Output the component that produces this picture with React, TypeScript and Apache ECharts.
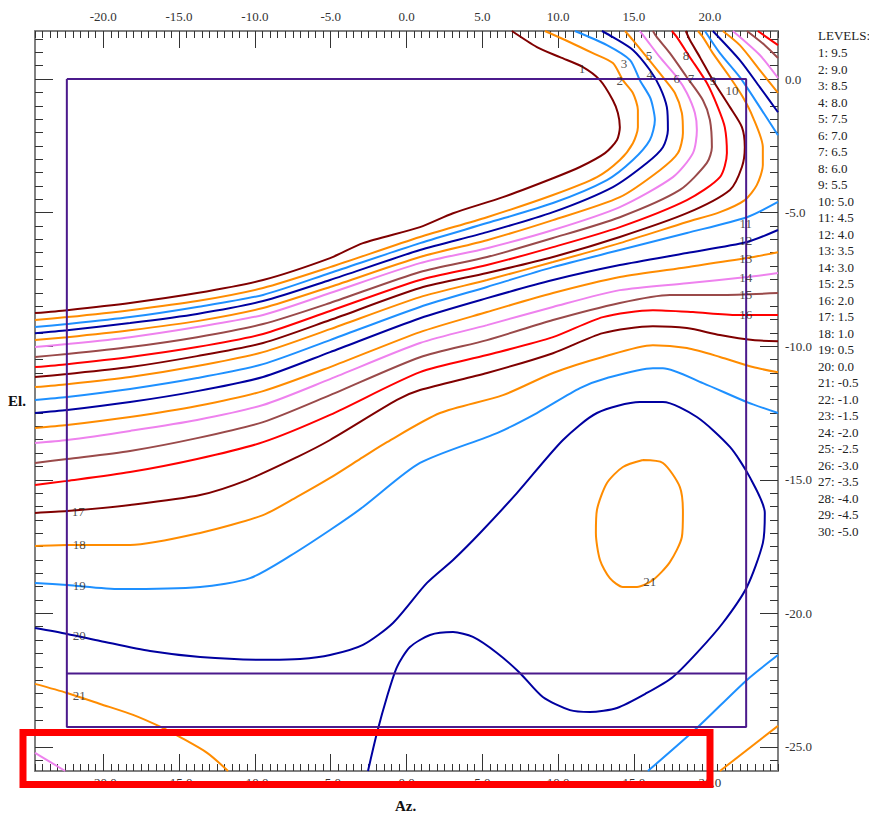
import React, { useEffect, useRef } from "react";
import * as echarts from "echarts";

// ---------- data ----------
const levelValues = [9.5, 9.0, 8.5, 8.0, 7.5, 7.0, 6.5, 6.0, 5.5, 5.0, 4.5, 4.0, 3.5, 3.0, 2.5, 2.0, 1.5, 1.0, 0.5, 0.0, -0.5, -1.0, -1.5, -2.0, -2.5, -3.0, -3.5, -4.0, -4.5, -5.0];

const azRange = [-24.5, 24.5];
const elRange = [-25.9, 1.8];
const azMajorTicks = [-20, -15, -10, -5, 0, 5, 10, 15, 20];
const elMajorTicks = [-25, -20, -15, -10, -5, 0];

const frameAz = [-22.4, 22.4];
const frameEl = [0, -24.25];
const frameCutEl = -22.25;

const level1 = [[-24.5,-8.76],[-22.38,-8.65],[-18.23,-8.38],[-13.81,-8.01],[-9.46,-7.52],[-5.04,-6.70],[-2.87,-6.14],[0.89,-5.54],[3.07,-5.02],[6.36,-4.42],[9.66,-3.71],[11.44,-3.29],[13.09,-2.77],[13.88,-2.28],[14.07,-1.80],[13.94,-1.27],[13.61,-0.79],[12.76,-0.04],[11.64,0.45],[10.12,0.82],[8.60,1.20],[6.95,1.8]];
const level2 = [[-24.5,-9.02],[-22.38,-8.91],[-18.23,-8.65],[-13.81,-8.31],[-9.46,-7.82],[-5.04,-7.04],[0.89,-5.91],[5.31,-5.17],[9.66,-4.34],[12.56,-3.67],[14.07,-3.03],[14.93,-2.40],[15.26,-1.80],[15.26,-1.16],[14.93,-0.52],[14.27,-0.04],[13.61,0.60],[12.29,0.97],[10.78,1.38],[9.13,1.8]];
const level3 = [[-24.5,-9.28],[-22.38,-9.17],[-18.23,-8.91],[-13.81,-8.53],[-9.46,-8.08],[-5.04,-7.26],[0.89,-6.14],[5.31,-5.39],[9.66,-4.64],[13.22,-3.78],[14.93,-3.03],[16.05,-2.28],[16.38,-1.53],[16.25,-1.05],[16.05,-0.67],[15.39,-0.04],[14.74,0.71],[13.22,1.27],[11.11,1.8]];
const level4 = [[-24.5,-9.51],[-22.38,-9.40],[-18.23,-9.13],[-13.81,-8.79],[-9.46,-8.31],[-5.04,-7.52],[0.89,-6.40],[5.31,-5.73],[9.66,-4.98],[13.61,-4.04],[15.85,-3.14],[16.91,-2.55],[17.24,-1.91],[17.17,-1.05],[16.71,-0.30],[16.05,0.34],[14.93,1.09],[13.61,1.57],[12.89,1.8]];
const level5 = [[-24.5,-9.77],[-22.38,-9.66],[-18.23,-9.40],[-13.81,-9.06],[-9.46,-8.57],[-5.04,-7.78],[0.89,-6.66],[5.31,-6.03],[9.66,-5.28],[14.07,-4.42],[16.71,-3.41],[17.90,-2.77],[18.23,-2.02],[18.16,-1.27],[17.70,-0.52],[16.91,0.07],[15.85,0.82],[14.93,1.46],[14.41,1.8]];
const level6 = [[-24.5,-10.03],[-22.38,-9.92],[-18.23,-9.66],[-13.81,-9.28],[-9.46,-8.83],[-5.04,-8.01],[0.89,-6.89],[5.31,-6.33],[9.66,-5.65],[14.07,-4.79],[17.57,-3.67],[18.89,-2.77],[19.15,-1.91],[19.02,-1.27],[18.49,-0.52],[17.83,0.07],[16.71,0.82],[15.85,1.46],[15.39,1.8]];
const level7 = [[-24.5,-10.40],[-22.38,-10.29],[-18.23,-10.03],[-13.81,-9.66],[-9.46,-9.17],[-5.04,-8.38],[0.89,-7.22],[5.31,-6.66],[9.66,-5.95],[14.07,-5.17],[18.03,-4.15],[19.81,-3.14],[20.14,-2.55],[20.01,-1.53],[19.55,-0.79],[18.49,0.07],[17.37,0.97],[16.51,1.57],[16.25,1.8]];
const level8 = [[-24.5,-10.78],[-22.38,-10.67],[-18.23,-10.40],[-13.81,-10.03],[-9.46,-9.54],[-5.04,-8.68],[0.89,-7.52],[5.31,-6.96],[9.66,-6.29],[14.07,-5.54],[18.49,-4.53],[20.67,-3.67],[21.13,-2.77],[20.99,-1.80],[20.53,-1.05],[19.81,-0.15],[18.69,0.82],[17.83,1.57],[17.50,1.8]];
const level9 = [[-24.5,-11.15],[-22.38,-11.04],[-18.23,-10.78],[-13.81,-10.37],[-9.46,-9.88],[-5.04,-9.02],[0.89,-7.82],[5.31,-7.26],[9.66,-6.66],[14.07,-5.91],[18.49,-5.02],[21.33,-4.15],[22.12,-3.29],[22.31,-2.55],[22.12,-1.80],[21.33,-1.05],[20.20,-0.04],[19.35,0.82],[18.69,1.46],[18.42,1.8]];
const level10 = [[-24.5,-11.53],[-22.38,-11.42],[-18.23,-11.15],[-13.81,-10.74],[-9.46,-10.22],[-5.04,-9.36],[0.89,-8.16],[5.31,-7.52],[9.66,-6.85],[14.07,-6.14],[18.49,-5.35],[20.67,-4.98],[22.31,-4.53],[23.10,-3.97],[23.50,-3.22],[23.50,-2.55],[22.84,-1.42],[22.18,-0.67],[21.33,0.07],[20.20,0.97],[19.55,1.57],[19.22,1.8]];
const level11 = [[-24.5,-12.01],[-22.38,-11.90],[-18.23,-11.60],[-13.81,-11.19],[-9.46,-10.67],[-5.04,-9.77],[0.89,-8.53],[5.31,-7.78],[9.66,-7.04],[14.07,-6.40],[18.49,-5.76],[22.45,-5.17],[24.5,-4.60]];
const level11b = [[19.68,1.8],[20.67,0.97],[21.98,0.07],[23.30,-1.05],[24.5,-2.10]];
const level12 = [[-24.5,-12.50],[-22.38,-12.39],[-18.23,-12.09],[-13.81,-11.68],[-9.46,-11.15],[-5.04,-10.22],[0.89,-8.95],[5.31,-8.20],[9.66,-7.52],[14.07,-6.96],[18.49,-6.51],[22.45,-6.10],[24.5,-5.65]];
const level12b = [[20.20,1.8],[21.98,0.71],[23.30,-0.30],[24.5,-1.24]];
const level13 = [[-24.5,-13.06],[-22.38,-12.95],[-18.23,-12.65],[-13.81,-12.24],[-9.46,-11.68],[-5.04,-10.78],[0.89,-9.47],[5.31,-8.72],[9.66,-8.01],[14.07,-7.41],[18.49,-7.04],[22.45,-6.70],[24.5,-6.48]];
const level13b = [[20.86,1.8],[21.98,1.27],[23.30,0.34],[24.5,-0.52]];
const level14 = [[-24.5,-13.62],[-22.38,-13.51],[-18.23,-13.17],[-13.81,-12.76],[-9.46,-12.20],[-5.04,-11.23],[0.89,-9.88],[5.31,-9.21],[9.66,-8.53],[14.07,-7.90],[18.49,-7.64],[22.45,-7.41],[24.5,-7.26]];
const level14b = [[21.52,1.8],[23.30,0.90],[24.5,0.04]];
const level15 = [[-24.5,-14.37],[-22.38,-14.22],[-18.23,-13.92],[-13.81,-13.44],[-9.46,-12.84],[-5.04,-11.83],[0.89,-10.41],[5.31,-9.77],[9.66,-9.02],[14.07,-8.38],[17.37,-8.08],[20.67,-8.08],[24.5,-8.01]];
const level15b = [[22.45,1.8],[23.63,1.27],[24.5,0.79]];
const level16 = [[-24.5,-15.19],[-22.38,-15.04],[-18.23,-14.71],[-13.81,-14.22],[-9.46,-13.59],[-5.04,-12.57],[0.89,-10.97],[5.31,-10.33],[9.66,-9.66],[12.95,-8.91],[16.25,-8.65],[18.89,-8.72],[21.79,-8.83],[24.5,-8.83]];
const level16b = [[23.17,1.8],[24.5,1.27]];
const level17 = [[-24.5,-16.24],[-22.38,-16.17],[-18.23,-15.94],[-13.61,-15.57],[-10.52,-15.01],[-7.22,-14.15],[-5.04,-13.51],[-0.63,-12.01],[0.89,-11.64],[5.31,-11.00],[9.66,-10.26],[12.95,-9.51],[16.25,-9.25],[18.49,-9.32],[20.67,-9.58],[22.84,-9.77],[24.5,-9.81]];
const level18 = [[-24.5,-17.48],[-22.38,-17.44],[-18.23,-17.44],[-13.61,-16.99],[-9.46,-16.32],[-7.22,-15.64],[-5.04,-14.93],[-2.87,-14.15],[-1.29,-13.59],[2.21,-12.50],[6.36,-11.83],[9.66,-11.00],[12.95,-10.40],[16.25,-9.96],[18.49,-10.07],[20.67,-10.40],[22.84,-10.78],[24.5,-10.97]];
const level18b = [[20.67,-25.9],[24.5,-24.21]];
const level19 = [[-24.5,-18.86],[-22.38,-18.94],[-18.89,-19.09],[-13.61,-19.01],[-10.32,-18.68],[-7.68,-17.85],[-5.04,-16.88],[-2.87,-16.02],[0.89,-14.37],[5.97,-13.25],[8.60,-12.50],[11.44,-11.57],[13.22,-11.19],[16.25,-10.82],[16.91,-10.82],[19.55,-11.38],[22.45,-12.09],[24.5,-12.50]];
const level19b = [[15.92,-25.9],[19.15,-24.29],[22.45,-22.49],[24.5,-21.56]];
const level20 = [[-24.5,-20.55],[-22.38,-20.77],[-20.20,-21.03],[-16.91,-21.41],[-13.61,-21.63],[-9.00,-21.74],[-7.02,-21.71],[-5.04,-21.56],[-2.87,-21.18],[-0.89,-20.36],[1.35,-18.86],[3.07,-18.00],[4.85,-16.99],[7.28,-15.50],[10.32,-13.51],[12.56,-12.50],[15.39,-12.09],[16.91,-12.09],[19.15,-12.65],[21.33,-13.77],[22.64,-14.90],[23.63,-16.24],[23.50,-17.37],[22.45,-19.01],[20.86,-20.36],[19.15,-21.48],[17.57,-22.38],[15.85,-22.98],[13.88,-23.54],[12.10,-23.69],[10.78,-23.62],[8.99,-23.13],[7.48,-22.23],[5.97,-21.48],[4.38,-20.88],[3.07,-20.70],[1.55,-20.81],[0.23,-21.26],[-0.63,-22.01],[-1.29,-23.13],[-1.95,-24.48],[-2.54,-25.9]];
const level21 = [[15.59,-14.26],[16.91,-14.37],[18.03,-15.27],[18.23,-16.24],[18.16,-17.14],[17.37,-18.08],[16.25,-18.75],[15.20,-19.01],[14.27,-19.01],[13.41,-18.68],[12.76,-18.00],[12.49,-16.99],[12.56,-16.13],[13.22,-15.12],[14.27,-14.52],[15.59,-14.26]];
const level21b = [[-24.5,-22.64],[-22.38,-22.98],[-20.20,-23.39],[-18.03,-23.80],[-16.06,-24.29],[-14.93,-24.63],[-13.15,-25.22],[-11.77,-25.9]];
const level22 = [[-24.5,-25.22],[-22.51,-25.9]];

const contourPieces: { level: number; pts: number[][] }[] = [
  { level: 1, pts: level1 }, { level: 2, pts: level2 }, { level: 3, pts: level3 },
  { level: 4, pts: level4 }, { level: 5, pts: level5 }, { level: 6, pts: level6 },
  { level: 7, pts: level7 }, { level: 8, pts: level8 }, { level: 9, pts: level9 },
  { level: 10, pts: level10 }, { level: 11, pts: level11 }, { level: 11, pts: level11b },
  { level: 12, pts: level12 }, { level: 12, pts: level12b }, { level: 13, pts: level13 },
  { level: 13, pts: level13b }, { level: 14, pts: level14 }, { level: 14, pts: level14b },
  { level: 15, pts: level15 }, { level: 15, pts: level15b }, { level: 16, pts: level16 },
  { level: 16, pts: level16b }, { level: 17, pts: level17 }, { level: 18, pts: level18 },
  { level: 18, pts: level18b }, { level: 19, pts: level19 }, { level: 19, pts: level19b },
  { level: 20, pts: level20 }, { level: 21, pts: level21 }, { level: 21, pts: level21b },
  { level: 22, pts: level22 },
];

const labelTexts = ["1", "2", "3", "4", "5", "6", "7", "8", "9", "10", "11", "12", "13", "14", "15", "16", "17", "18", "19", "20", "21", "21"];
const labelAz = [11.57, 14.07, 14.34, 16.05, 15.99, 17.83, 18.76, 18.43, 20.21, 21.46, 22.38, 22.38, 22.38, 22.38, 22.38, 22.38, -21.65, -21.59, -21.59, -21.59, -21.59, 16.05];
const labelEl = [0.41, -0.04, 0.60, 0.19, 0.90, 0.04, 0.04, 0.90, -0.04, -0.41, -5.39, -6.06, -6.70, -7.41, -8.08, -8.83, -16.17, -17.44, -18.97, -20.81, -23.09, -18.82];

// ---------- styles ----------
const SERIF = "'Liberation Serif', 'Times New Roman', serif";
const levelColors = ["#800000", "#ff8c00", "#1e90ff", "#0000a0", "#ff8c00", "#ee82ee", "#9a4a4a", "#ff0000"];
const frameColor = "#4b1a8c";
const axisGray = "#808080";
const tickColor = "#333333";

function range(a: number, b: number, step: number) {
  const out: number[] = [];
  for (let v = a; v <= b + 1e-9; v += step) out.push(Math.round(v * 10) / 10);
  return out;
}

export default function App() {
  const ref = useRef<HTMLDivElement>(null);
  useEffect(() => {
    if (!ref.current) return;
    const chart = echarts.init(ref.current, null, { renderer: "svg" });
    const minorAz = range(azRange[0], azRange[1], 0.5);
    const minorEl = range(-25.5, 1.5, 0.5);
    const labelFont = { fontFamily: SERIF, fontSize: 13, color: "#333" };
    const line = (show: boolean) => ({ show, onZero: false, lineStyle: { color: axisGray, width: 2 } });
    const tick = (len: number, vals: number[]) => ({
      show: true, inside: true, length: len, customValues: vals, lineStyle: { color: tickColor, width: 1 },
    });

    const xBase = { type: "value", min: azRange[0], max: azRange[1], splitLine: { show: false }, gridIndex: 0 };
    const yBase = { type: "value", min: elRange[0], max: elRange[1], splitLine: { show: false }, gridIndex: 0 };

    const xAxis = [
      { ...xBase, position: "bottom", axisLine: line(true), axisTick: tick(7, minorAz),
        axisLabel: { show: true, customValues: azMajorTicks, formatter: (v: number) => v.toFixed(1), margin: 5, ...labelFont } },
      { ...xBase, position: "bottom", axisLine: line(false), axisTick: tick(17, azMajorTicks), axisLabel: { show: false } },
      { ...xBase, position: "top", axisLine: line(true), axisTick: tick(7, minorAz),
        axisLabel: { show: true, customValues: azMajorTicks, formatter: (v: number) => v.toFixed(1), margin: 8, ...labelFont } },
      { ...xBase, position: "top", axisLine: line(false), axisTick: tick(17, azMajorTicks), axisLabel: { show: false } },
    ];
    const yAxis = [
      { ...yBase, position: "left", axisLine: line(true), axisTick: tick(8, minorEl), axisLabel: { show: false } },
      { ...yBase, position: "left", axisLine: line(false), axisTick: tick(18, elMajorTicks), axisLabel: { show: false } },
      { ...yBase, position: "right", axisLine: line(true), axisTick: tick(8, minorEl),
        axisLabel: { show: true, customValues: elMajorTicks, formatter: (v: number) => v.toFixed(1), margin: 7, ...labelFont } },
      { ...yBase, position: "right", axisLine: line(false), axisTick: tick(18, elMajorTicks), axisLabel: { show: false } },
    ];

    const contourSeries = contourPieces.map((p) => ({
      type: "line",
      data: p.pts,
      xAxisIndex: 0,
      yAxisIndex: 0,
      showSymbol: false,
      symbol: "none",
      silent: true,
      smooth: 0.25,
      z: 2,
      lineStyle: { color: levelColors[(p.level - 1) % 8], width: 2 },
    }));

    const framePts = [
      [frameAz[0], frameEl[0]], [frameAz[1], frameEl[0]], [frameAz[1], frameEl[1]],
      [frameAz[0], frameEl[1]], [frameAz[0], frameEl[0]],
    ];
    const cutPts = [[frameAz[0], frameCutEl], [frameAz[1], frameCutEl]];

    const legendTexts = levelValues.map((v, i) => `${i + 1}: ${v.toFixed(1)}`);

    const graphic: any[] = [
      { type: "text", left: 818, top: 29, style: { text: "LEVELS:", font: `13px ${SERIF}`, fill: "#222" } },
      ...legendTexts.map((t, i) => ({
        type: "text", left: 818, top: 46 + i * 16.5,
        style: { text: t, font: `13px ${SERIF}`, fill: "#222" },
      })),
      { type: "text", left: 8, top: 393, style: { text: "El.", font: `bold 15px ${SERIF}`, fill: "#111" } },
      { type: "text", left: 395, top: 798, style: { text: "Az.", font: `bold 15px ${SERIF}`, fill: "#111" } },
      { type: "rect", z: 100, shape: { x: 23, y: 732.5, width: 687, height: 52 },
        style: { fill: "none", stroke: "#ff0000", lineWidth: 7 } },
    ];

    chart.setOption({
      animation: false,
      backgroundColor: "#ffffff",
      grid: { left: 35, right: 91, top: 31, bottom: 44, containLabel: false, outerBoundsMode: "none" },
      xAxis,
      yAxis,
      series: [
        ...contourSeries,
        { type: "line", data: framePts, showSymbol: false, symbol: "none", silent: true, z: 3,
          lineStyle: { color: frameColor, width: 2 } },
        { type: "line", data: cutPts, showSymbol: false, symbol: "none", silent: true, z: 3,
          lineStyle: { color: frameColor, width: 2 } },
        { type: "scatter", symbolSize: 1, z: 5, silent: true,
          itemStyle: { color: "rgba(0,0,0,0)" },
          data: labelTexts.map((t, i) => ({ name: t, value: [labelAz[i], labelEl[i]] })),
          label: { show: true, position: "inside", formatter: "{b}", fontFamily: SERIF, fontSize: 13, color: "#222" } },
      ],
      graphic,
    });
    return () => chart.dispose();
  }, []);
  return <div ref={ref} style={{ position: "absolute", left: 0, top: 0, width: 869, height: 815 }} />;
}
